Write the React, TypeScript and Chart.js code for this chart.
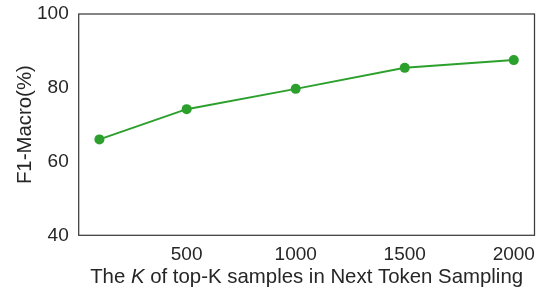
import React, { useEffect, useRef } from "react";
import { Chart, registerables } from "chart.js";

Chart.register(...registerables);

const kValues = [100, 500, 1000, 1500, 2000];
const f1Macro = [66.0, 74.2, 79.7, 85.4, 87.5];
const xTicks = [500, 1000, 1500, 2000];
const yTicks = [40, 60, 80, 100];
const xTitleParts = [
  { text: "The ", italic: false },
  { text: "K", italic: true },
  { text: " of top-K samples in Next Token Sampling", italic: false },
];
const yTitle = "F1-Macro(%)";

const FONT = "'Liberation Sans', Arial, sans-serif";
const TEXT = "#262626";
const TITLE_SIZE = 20.4;
const TICK_SIZE = 19;

export default function App() {
  const ref = useRef<HTMLCanvasElement | null>(null);
  useEffect(() => {
    if (!ref.current) return;
    const framePlugin = {
      id: "frame",
      afterDraw(chart: any) {
        const { ctx, chartArea: a } = chart;
        ctx.save();
        ctx.strokeStyle = "#3c3c3c";
        ctx.lineWidth = 1.25;
        ctx.strokeRect(a.left, a.top, a.right - a.left, a.bottom - a.top);
        ctx.fillStyle = TEXT;
        ctx.textBaseline = "alphabetic";
        const widths = xTitleParts.map((p) => {
          ctx.font = `${p.italic ? "italic " : ""}${TITLE_SIZE}px ${FONT}`;
          return ctx.measureText(p.text).width;
        });
        const total = widths.reduce((s, w) => s + w, 0);
        let x = (a.left + a.right) / 2 - total / 2;
        xTitleParts.forEach((p, i) => {
          ctx.font = `${p.italic ? "italic " : ""}${TITLE_SIZE}px ${FONT}`;
          ctx.textAlign = "left";
          ctx.fillText(p.text, x, 283);
          x += widths[i];
        });
        ctx.translate(31, (a.top + a.bottom) / 2);
        ctx.rotate(-Math.PI / 2);
        ctx.font = `${TITLE_SIZE}px ${FONT}`;
        ctx.textAlign = "center";
        ctx.fillText(yTitle, 0, 0);
        ctx.restore();
      },
    };
    const zeroPad = (s: any) => {
      s.paddingLeft = 0;
      s.paddingRight = 0;
      s.paddingTop = 0;
      s.paddingBottom = 0;
    };
    const chart = new Chart(ref.current, {
      type: "line",
      data: {
        datasets: [
          {
            data: kValues.map((k, i) => ({ x: k, y: f1Macro[i] })),
            borderColor: "#2ca02c",
            backgroundColor: "#2ca02c",
            borderWidth: 2,
            pointRadius: 5,
            pointBorderWidth: 0,
            pointBackgroundColor: "#2ca02c",
            tension: 0,
          },
        ],
      },
      options: {
        animation: false,
        responsive: false,
        maintainAspectRatio: false,
        layout: { autoPadding: false, padding: { left: 0, right: 1.5, top: 14, bottom: 0 } },
        plugins: { legend: { display: false }, tooltip: { enabled: false } },
        scales: {
          x: {
            type: "linear",
            min: 5,
            max: 2095,
            grid: { display: false, drawTicks: false },
            border: { display: false },
            afterBuildTicks: (s: any) => {
              s.ticks = xTicks.map((v) => ({ value: v }));
            },
            afterFit: (s: any) => {
              s.height = 52.7;
              zeroPad(s);
            },
            ticks: {
              color: TEXT,
              font: { family: FONT, size: TICK_SIZE },
              padding: 8,
              maxRotation: 0,
              autoSkip: false,
              callback: (v: any) => String(v),
            },
          },
          y: {
            min: 40,
            max: 100,
            grid: { display: false, drawTicks: false },
            border: { display: false },
            afterBuildTicks: (s: any) => {
              s.ticks = yTicks.map((v) => ({ value: v }));
            },
            afterFit: (s: any) => {
              s.width = 78.7;
              zeroPad(s);
            },
            ticks: {
              color: TEXT,
              font: { family: FONT, size: TICK_SIZE },
              padding: 10,
              callback: (v: any) => String(v),
            },
          },
        },
      },
      plugins: [framePlugin],
    });
    return () => chart.destroy();
  }, []);
  return (
    <div style={{ position: "fixed", left: 0, top: 0, width: 536, height: 288, background: "#fff" }}>
      <canvas ref={ref} width={536} height={288} style={{ width: 536, height: 288 }} />
    </div>
  );
}
